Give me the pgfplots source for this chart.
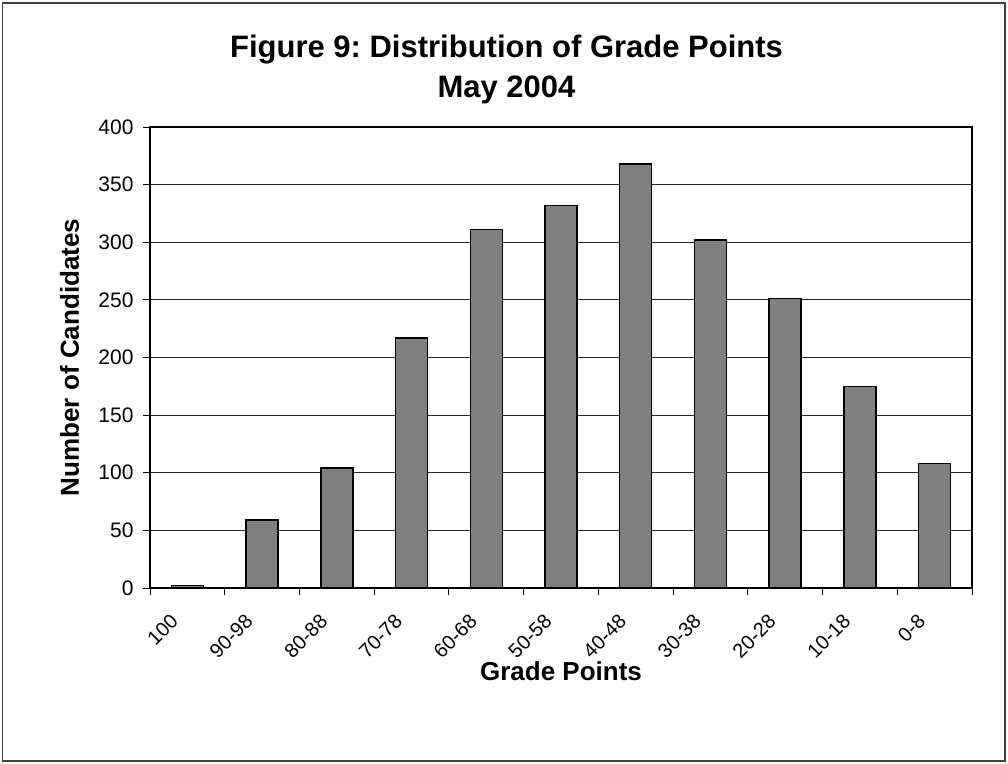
\documentclass[border=0pt]{standalone}
\usepackage{pgfplots}
\pgfplotsset{compat=1.18}
\usepackage{fontspec}
\setmainfont{Liberation Sans}
\definecolor{barfill}{HTML}{808080}
\frenchspacing
\begin{document}
\begin{tikzpicture}
\useasboundingbox (0,0) rectangle (1008bp,764bp);
\fill[white] (0,0) rectangle (1008bp,764bp);
\draw[line width=1.5bp, black!75] (2.5bp,3bp) rectangle (1005bp,761bp);
\node[anchor=base, font=\fontsize{31bp}{36bp}\selectfont\bfseries] at (506.5bp,706bp) {Figure 9: Distribution of Grade Points};
\node[anchor=base, font=\fontsize{31bp}{36bp}\selectfont\bfseries] at (506.5bp,666bp) {May 2004};
\begin{axis}[
  at={(150bp,176bp)}, anchor=south west,
  scale only axis, width=822bp, height=461bp,
  xmin=-0.5, xmax=10.5, ymin=0, ymax=400,
  xtick={0,...,10},
  xticklabels={100,90-98,80-88,70-78,60-68,50-58,40-48,30-38,20-28,10-18,0-8},
  minor xtick={-0.5,0.5,...,10.5},
  ytick={0,50,...,400},
  ymajorgrids,
  grid style={black!85, line width=0.9bp},
  tick align=outside, tick pos=left,
  major tick length=7bp, minor tick length=7bp,
  major x tick style={draw=none},
  tick style={black, line width=0.9bp},
  axis line style={line width=1.5bp},
  /pgf/number format/assume math mode=true,
  yticklabel style={font=\fontsize{21bp}{25bp}\selectfont, xshift=-6bp},
  xticklabel style={font=\fontsize{20bp}{24bp}\selectfont, xshift=-18bp, yshift=-13bp, rotate=45, anchor=north east},
  xlabel={Grade Points},
  ylabel={Number of Candidates},
  every axis x label/.style={at={(axis description cs:0.5,-0.2017)}, anchor=base, font=\fontsize{26bp}{30bp}\selectfont\bfseries},
  every axis y label/.style={at={(axis description cs:-0.0864,0.5)}, rotate=90, anchor=base, font=\fontsize{26bp}{30bp}\selectfont\bfseries},
]
\addplot[ybar, bar width=32bp, fill=barfill, draw=black, line width=1.5bp] coordinates {
  (0,2) (1,59) (2,104) (3,217) (4,311) (5,332) (6,368) (7,302) (8,251) (9,175) (10,108)
};
\end{axis}
\end{tikzpicture}
\end{document}
